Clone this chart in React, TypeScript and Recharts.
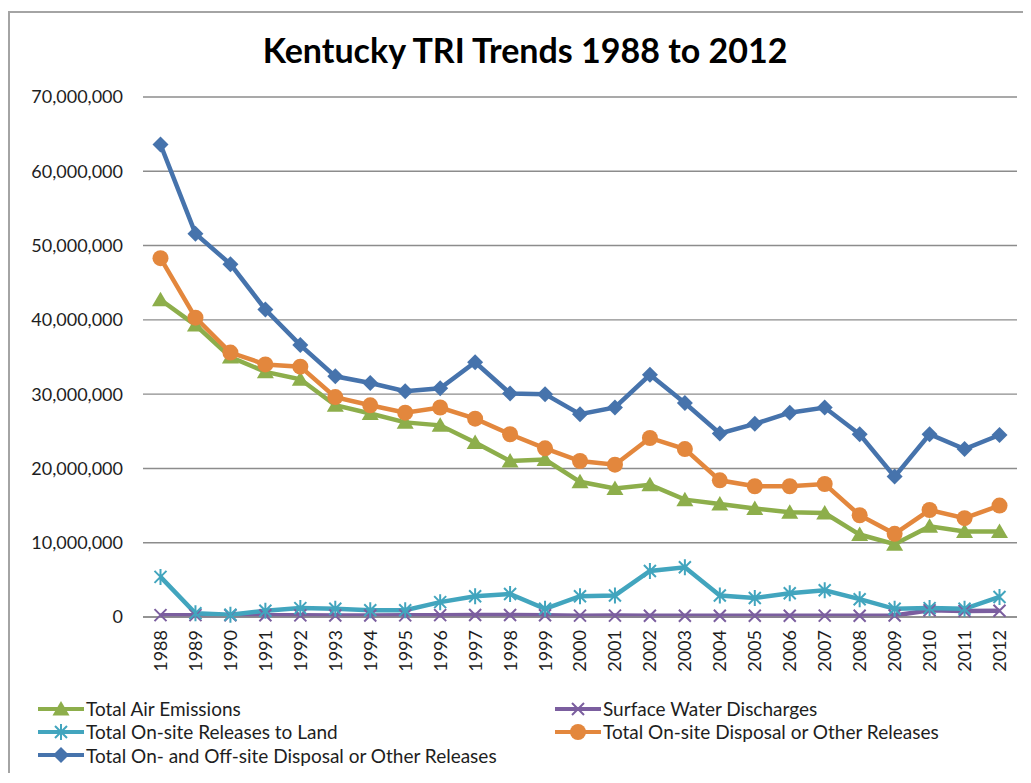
import { LineChart, Line, XAxis, YAxis, CartesianGrid, Legend } from 'recharts';

const YEARS = [
  '1988', '1989', '1990', '1991', '1992', '1993', '1994', '1995', '1996', '1997', '1998', '1999',
  '2000', '2001', '2002', '2003', '2004', '2005', '2006', '2007', '2008', '2009', '2010', '2011', '2012',
];

const AIR_EMISSIONS = [
  42700000, 39300000, 35000000, 33000000, 32000000, 28500000, 27400000, 26200000, 25800000,
  23500000, 21000000, 21200000, 18200000, 17300000, 17800000, 15800000, 15200000, 14600000,
  14100000, 14000000, 11100000, 9800000, 12200000, 11500000, 11500000,
];

const SURFACE_WATER = [
  250000, 250000, 240000, 230000, 220000, 200000, 210000, 220000, 250000, 260000, 270000, 230000,
  180000, 190000, 170000, 160000, 170000, 160000, 170000, 180000, 170000, 200000, 900000, 800000, 850000,
];

const LAND_RELEASES = [
  5400000, 500000, 300000, 850000, 1200000, 1100000, 900000, 900000, 2000000, 2800000, 3100000,
  1100000, 2800000, 2900000, 6200000, 6700000, 2900000, 2550000, 3200000, 3600000, 2400000,
  1100000, 1200000, 1100000, 2700000,
];

const ONSITE_DISPOSAL = [
  48300000, 40300000, 35600000, 34000000, 33700000, 29600000, 28500000, 27500000, 28200000,
  26700000, 24600000, 22700000, 21000000, 20500000, 24100000, 22600000, 18400000, 17600000,
  17600000, 17900000, 13700000, 11200000, 14400000, 13300000, 15000000,
];

const TOTAL_RELEASES = [
  63600000, 51600000, 47500000, 41400000, 36600000, 32400000, 31500000, 30400000, 30800000,
  34300000, 30100000, 30000000, 27300000, 28200000, 32600000, 28800000, 24700000, 26000000,
  27500000, 28200000, 24600000, 18900000, 24600000, 22600000, 24500000,
];

const Y_TICKS = [0, 10000000, 20000000, 30000000, 40000000, 50000000, 60000000, 70000000];

type Shape = 'triangle' | 'x' | 'star' | 'circle' | 'diamond';

const SERIES: { key: string; name: string; color: string; shape: Shape }[] = [
  { key: 'air', name: 'Total Air Emissions', color: '#8DAE4B', shape: 'triangle' },
  { key: 'water', name: 'Surface Water Discharges', color: '#7B5E9F', shape: 'x' },
  { key: 'land', name: 'Total On-site Releases to Land', color: '#42A5BE', shape: 'star' },
  { key: 'onsite', name: 'Total On-site Disposal or Other Releases', color: '#E3873D', shape: 'circle' },
  { key: 'total', name: 'Total On- and Off-site Disposal or Other Releases', color: '#4673AC', shape: 'diamond' },
];

const data = YEARS.map((year, i) => ({
  year,
  air: AIR_EMISSIONS[i],
  water: SURFACE_WATER[i],
  land: LAND_RELEASES[i],
  onsite: ONSITE_DISPOSAL[i],
  total: TOTAL_RELEASES[i],
}));

const FONT = 'Lato, "Open Sans", sans-serif';

function marker(shape: Shape, cx: number, cy: number, color: string, key?: string | number) {
  switch (shape) {
    case 'triangle':
      return (
        <path key={key} d={`M${cx},${cy - 8}L${cx + 8.5},${cy + 6.5}L${cx - 8.5},${cy + 6.5}Z`} fill={color} />
      );
    case 'circle':
      return <circle key={key} cx={cx} cy={cy} r={8} fill={color} />;
    case 'diamond':
      return <path key={key} d={`M${cx},${cy - 8}L${cx + 8},${cy}L${cx},${cy + 8}L${cx - 8},${cy}Z`} fill={color} />;
    case 'x':
      return (
        <path key={key} d={`M${cx - 6},${cy - 6}L${cx + 6},${cy + 6}M${cx + 6},${cy - 6}L${cx - 6},${cy + 6}`}
          stroke={color} strokeWidth={2} fill="none" />
      );
    case 'star':
    default:
      return (
        <path key={key}
          d={`M${cx - 6},${cy - 6}L${cx + 6},${cy + 6}M${cx + 6},${cy - 6}L${cx - 6},${cy + 6}M${cx},${cy - 8}L${cx},${cy + 8}`}
          stroke={color} strokeWidth={2} fill="none" />
      );
  }
}

const dotFor = (shape: Shape, color: string) => (props: any) => {
  const { cx, cy, index } = props;
  if (cx == null || cy == null) return <g key={`e-${index}`} />;
  return marker(shape, cx, cy, color, `${shape}-${index}`);
};

function YearTick({ x, y, payload }: any) {
  return (
    <text x={x} y={y} transform={`rotate(-90, ${x}, ${y})`} textAnchor="end" dy="0.36em"
      fontSize={18} fontFamily={FONT} fill="#1e1e1e">
      {payload.value}
    </text>
  );
}

function LegendBlock() {
  return (
    <div style={{ display: 'grid', gridTemplateColumns: '517px auto', fontFamily: FONT, fontSize: 19, color: '#1e1e1e' }}>
      {SERIES.map((s) => (
        <div key={s.key} style={{ display: 'flex', alignItems: 'center', height: 23.3 }}>
          <svg width={46} height={20} style={{ display: 'block' }}>
            <line x1={0} y1={10} x2={46} y2={10} stroke={s.color} strokeWidth={4} />
            {marker(s.shape, 23, 10, s.color)}
          </svg>
          <span style={{ marginLeft: 2, whiteSpace: 'nowrap' }}>{s.name}</span>
        </div>
      ))}
    </div>
  );
}

export default function App() {
  return (
    <div style={{ position: 'relative', marginTop: 3, width: 1019, borderTop: '2px solid #a4a4a4', borderLeft: '2px solid #a4a4a4' }}>
      <div style={{ position: 'absolute', left: 165, top: 20, width: 700, textAlign: 'center', fontFamily: FONT,
        fontWeight: 700, fontSize: 34, lineHeight: '34px', color: '#000' }}>
        Kentucky TRI Trends 1988 to 2012
      </div>
      <LineChart width={1019} height={760} data={data} margin={{ top: 84, right: 12, bottom: 86, left: 0 }}>
        <CartesianGrid vertical={false} stroke="#8c8c8c" strokeWidth={1.4} />
        <XAxis dataKey="year" interval={0} tick={<YearTick />} tickLine={false} tickSize={0} tickMargin={13}
          axisLine={{ stroke: '#8c8c8c', strokeWidth: 1.4 }} height={70} padding={{ left: 17.5, right: 17.5 }} />
        <YAxis domain={[0, 70000000]} ticks={Y_TICKS} width={133} tickSize={0} tickMargin={20}
          axisLine={false} tickLine={false} interval={0}
          tickFormatter={(v: number) => v.toLocaleString('en-US')}
          tick={{ fontSize: 18, fontFamily: FONT, fill: '#1e1e1e' }} />
        <Legend layout="horizontal" verticalAlign="middle" align="center" content={<LegendBlock />}
          wrapperStyle={{ top: 684, left: 28, width: 950 }} />
        {SERIES.map((s) => (
          <Line key={s.key} dataKey={s.key} name={s.name} stroke={s.color} strokeWidth={4.5}
            dot={dotFor(s.shape, s.color)} activeDot={false} isAnimationActive={false} />
        ))}
      </LineChart>
    </div>
  );
}
